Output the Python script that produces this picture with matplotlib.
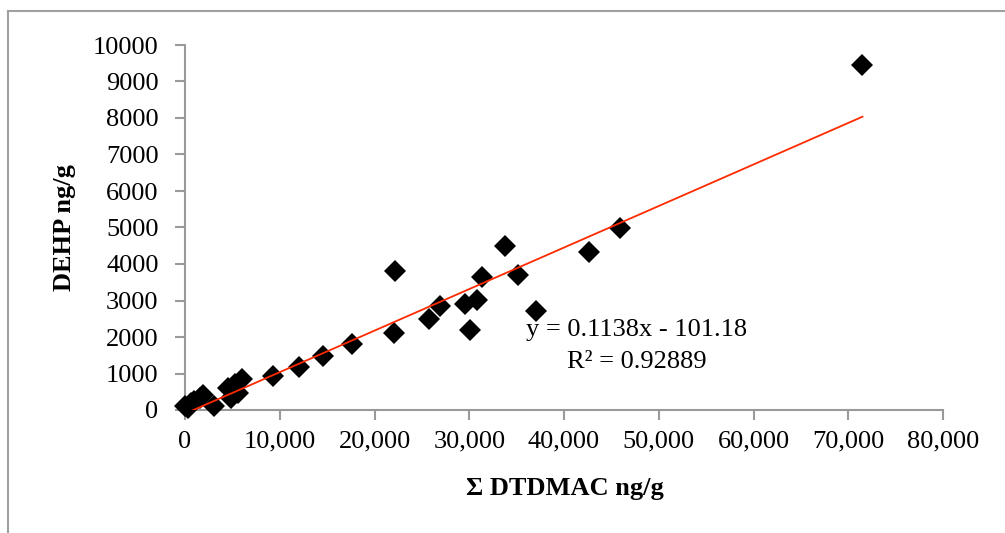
import numpy as np
import matplotlib
matplotlib.use("Agg")
import matplotlib.pyplot as plt
from matplotlib.lines import Line2D

# данные
dtdmac = [0, 300, 600, 1000, 1600, 1900, 3100, 4500, 4900, 5300, 5600, 6000,
          9300, 12000, 14600, 17600, 22100, 22200, 25800, 26900, 29600, 30100,
          30800, 31300, 33800, 35100, 37000, 42600, 45900, 71500]
dehp = [120, 60, 200, 260, 340, 400, 100, 590, 320, 720, 470, 850,
        940, 1190, 1480, 1810, 2110, 3800, 2480, 2850, 2900, 2200,
        3020, 3650, 4480, 3700, 2710, 4320, 4980, 9450]

slope = 0.1138
intercept = -101.18
eq_text = "y = 0.1138x - 101.18"
r2_text = "R² = 0.92889"

x_ticks = [0, 10000, 20000, 30000, 40000, 50000, 60000, 70000, 80000]
x_tick_labels = ["0", "10,000", "20,000", "30,000", "40,000", "50,000",
                 "60,000", "70,000", "80,000"]
y_ticks = [0, 1000, 2000, 3000, 4000, 5000, 6000, 7000, 8000, 9000, 10000]
y_tick_labels = [str(v) for v in y_ticks]

font = "Liberation Serif"
fs = 19
gray = "#9a9a9a"

fig = plt.figure(figsize=(10.05, 5.33), dpi=100)
ax = fig.add_axes([185 / 1005, 1 - 410 / 533, (943 - 185) / 1005, (410 - 45) / 533])

ax.plot(dtdmac, dehp, linestyle="none", marker="D", markersize=11,
        color="black", markeredgewidth=0, clip_on=False, zorder=3)

# линия тренда
xt = np.array([min(dtdmac), max(dtdmac)])
ax.plot(xt, slope * xt + intercept, color="#ff2a00", linewidth=1.3, zorder=4)

ax.set_xlim(0, 80000)
ax.set_ylim(0, 10000)
ax.set_xticks(x_ticks)
ax.set_xticklabels(x_tick_labels, fontfamily=font, fontsize=fs)
ax.set_yticks(y_ticks)
ax.set_yticklabels(y_tick_labels, fontfamily=font, fontsize=fs)

for s in ["top", "right"]:
    ax.spines[s].set_visible(False)
for s in ["left", "bottom"]:
    ax.spines[s].set_color(gray)
    ax.spines[s].set_linewidth(1.5)
ax.tick_params(axis="both", direction="out", length=7, width=1.5, color=gray)
ax.tick_params(axis="y", pad=12)
ax.tick_params(axis="x", pad=8)

ax.set_xlabel("Σ DTDMAC ng/g", fontfamily=font, fontsize=fs, fontweight="bold")
ax.set_ylabel("DEHP ng/g", fontfamily=font, fontsize=fs, fontweight="bold")
ax.xaxis.label.set_va("center")
ax.yaxis.label.set_va("center")
ax.xaxis.set_label_coords((565 - 185) / 758, (410 - 488) / 365)
ax.yaxis.set_label_coords((65 - 185) / 758, 0.5)

ax.text(47670, 2190, eq_text, ha="center", va="center", fontfamily=font, fontsize=fs)
ax.text(47670, 1320, r2_text, ha="center", va="center", fontfamily=font, fontsize=fs)

# рамка области диаграммы
fx = 8 / 1005
fy = 1 - 11 / 533
fig.add_artist(Line2D([fx, fx], [-0.02, fy], color="#a0a0a0", linewidth=1.5))
fig.add_artist(Line2D([fx, 1.02], [fy, fy], color="#a0a0a0", linewidth=1.5))

fig.savefig("out.png", dpi=100)
